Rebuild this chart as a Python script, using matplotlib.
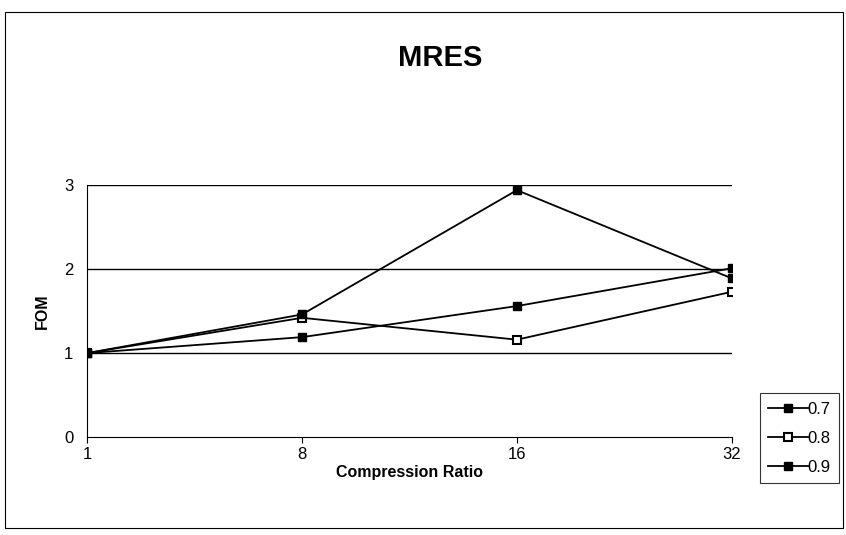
import matplotlib.pyplot as plt
from matplotlib.patches import Rectangle

plt.rcParams['font.family'] = ['Liberation Sans', 'DejaVu Sans']

ratios = ['1', '8', '16', '32']
fom_07 = [1.0, 1.19, 1.56, 2.01]
fom_08 = [1.0, 1.42, 1.16, 1.73]
fom_09 = [1.0, 1.46, 2.94, 1.89]

fig = plt.figure(figsize=(8.46, 5.35), dpi=100)
ax = fig.add_axes([0.103, 0.183, 0.762, 0.471])

x = range(len(ratios))
ax.plot(x, fom_07, color='black', lw=1.3, marker='s', ms=6, mfc='black', mec='black', label='0.7')
ax.plot(x, fom_08, color='black', lw=1.3, marker='s', ms=6, mfc='white', mec='black', mew=1.5, label='0.8')
ax.plot(x, fom_09, color='black', lw=1.3, marker='s', ms=6, mfc='black', mec='black', label='0.9')

ax.set_xlim(0, 3)
ax.set_ylim(0, 3)
ax.set_xticks(list(x))
ax.set_xticklabels(ratios, fontsize=12)
ax.set_yticks([0, 1, 2, 3])
ax.set_yticklabels(['0', '1', '2', '3'], fontsize=12)
ax.tick_params(axis='y', length=0, pad=10)
ax.tick_params(axis='x', direction='out', length=4, pad=3)
for y in [1, 2, 3]:
    ax.axhline(y, color='black', lw=1.0, zorder=0)
for s in ['top', 'right']:
    ax.spines[s].set_visible(False)
ax.spines['left'].set_linewidth(0.8)
ax.spines['bottom'].set_linewidth(0.8)
ax.patch.set_alpha(0)

ax.set_xlabel('Compression Ratio', fontsize=11.5, fontweight='bold', labelpad=2)
ax.set_ylabel('FOM', fontsize=11.5, fontweight='bold', labelpad=10)
fig.text(0.52, 0.892, 'MRES', ha='center', va='center', fontsize=21, fontweight='bold')

leg = ax.legend(loc='lower left', bbox_to_anchor=(1.043, -0.183), frameon=True, fancybox=False,
                edgecolor='black', fontsize=12, handlelength=2.4, handletextpad=0.0,
                borderpad=0.5, labelspacing=0.85, borderaxespad=0.0)
leg.get_frame().set_linewidth(0.8)

fig.patches.append(Rectangle((0.006, 0.013), 0.99, 0.965, transform=fig.transFigure,
                             fill=False, edgecolor='black', lw=0.8))

fig.savefig('out.png', dpi=100)
